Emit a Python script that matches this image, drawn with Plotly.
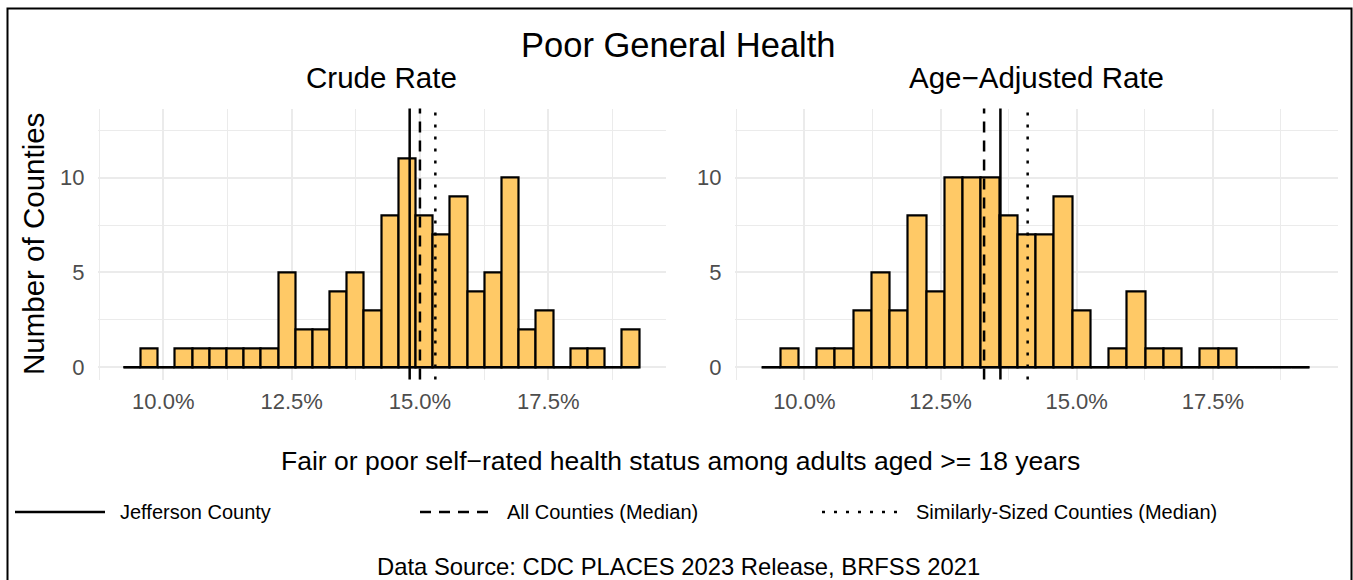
import plotly.graph_objects as go

# ---------------- data ----------------
BIN_START = 9.222          # left edge of first histogram bin (%)
BIN_WIDTH = 0.335          # histogram bin width (%)

crude_counts = [0, 1, 0, 1, 1, 1, 1, 1, 1, 5, 2, 2, 4, 5, 3, 8, 11, 8, 7, 9,
                4, 5, 10, 2, 3, 0, 1, 1, 0, 2]
adjusted_counts = [0, 1, 0, 1, 1, 3, 5, 3, 8, 4, 10, 10, 10, 8, 7, 7, 9, 3, 0, 1,
                   4, 1, 1, 0, 1, 1, 0, 0, 0, 0]

ref_labels = ["Jefferson County", "All Counties (Median)", "Similarly-Sized Counties (Median)"]
crude_ref_values = [14.8, 15.0, 15.3]
adjusted_ref_values = [13.6, 13.3, 14.1]

x_tick_vals = [10, 12.5, 15, 17.5]
x_tick_text = ["10.0%", "12.5%", "15.0%", "17.5%"]
x_minor_vals = [8.75, 11.25, 13.75, 16.25, 18.75]
y_tick_vals = [0, 5, 10]
y_tick_text = ["0", "5", "10"]
y_minor_vals = [2.5, 7.5, 12.5]

panel_titles = ["Crude Rate", "Age\u2212Adjusted Rate"]
main_title = "Poor General Health"
x_title = "Fair or poor self\u2212rated health status among adults aged >= 18 years"
y_title = "Number of Counties"
caption = "Data Source: CDC PLACES 2023 Release, BRFSS 2021"

# ---------------- styling ----------------
W, H = 1353, 580
FONT = "Liberation Sans, Arial, Helvetica, sans-serif"
FILL = "#FFC966"
GRID = "#EBEBEB"
TICK_COLOR = "#4D4D4D"
DASHES = ["solid", "11px,8px", "3px,9px"]


def px(x):
    return x / W


def py(y):
    return 1 - y / H


fig = go.Figure()

panels = [
    ("x", "y", crude_counts, crude_ref_values),
    ("x2", "y2", adjusted_counts, adjusted_ref_values),
]

for xa, ya, counts, refs in panels:
    n = len(counts)
    centers = [BIN_START + (i + 0.5) * BIN_WIDTH for i in range(n)]
    first_edge = BIN_START
    last_edge = BIN_START + n * BIN_WIDTH
    fig.add_trace(go.Scatter(
        x=[first_edge, last_edge], y=[0, 0], mode="lines",
        line=dict(color="black", width=2.2),
        xaxis=xa, yaxis=ya, showlegend=False, hoverinfo="skip"))
    fig.add_trace(go.Bar(
        x=centers, y=counts, width=BIN_WIDTH,
        marker=dict(color=FILL, line=dict(color="black", width=2.2)),
        xaxis=xa, yaxis=ya, showlegend=False))
    for v, d in zip(refs, DASHES):
        fig.add_shape(type="line", xref=xa, yref=ya + " domain",
                      x0=v, x1=v, y0=0, y1=1,
                      line=dict(color="black", width=2.5, dash=d))


def xaxis_cfg(domain, anchor):
    return dict(domain=domain, anchor=anchor, range=[8.72, 19.79],
                tickmode="array", tickvals=x_tick_vals, ticktext=x_tick_text,
                showgrid=True, gridcolor=GRID, gridwidth=1.6,
                minor=dict(tickmode="array", tickvals=x_minor_vals, showgrid=True,
                           gridcolor=GRID, gridwidth=0.8),
                zeroline=False, showline=False, ticks="",
                tickfont=dict(family=FONT, size=22, color=TICK_COLOR),
                ticklabelstandoff=6)


def yaxis_cfg(anchor):
    return dict(domain=[py(379.5), py(108.5)], anchor=anchor, range=[-0.65, 13.65],
                tickmode="array", tickvals=y_tick_vals, ticktext=y_tick_text,
                showgrid=True, gridcolor=GRID, gridwidth=1.6,
                minor=dict(tickmode="array", tickvals=y_minor_vals, showgrid=True,
                           gridcolor=GRID, gridwidth=0.8),
                zeroline=False, showline=False, ticks="",
                tickfont=dict(family=FONT, size=22, color=TICK_COLOR),
                ticklabelstandoff=12)


annotations = [
    dict(text=main_title, x=px(678), y=py(45), font=dict(size=34.5)),
    dict(text=panel_titles[0], x=px(381.7), y=py(78), font=dict(size=29.5)),
    dict(text=panel_titles[1], x=px(1036), y=py(78), font=dict(size=29.5)),
    dict(text=x_title, x=px(680), y=py(461), font=dict(size=26.5)),
    dict(text=caption, x=px(678), y=py(566), font=dict(size=23.8)),
    dict(text=y_title, x=px(34), y=py(244), font=dict(size=29.5), textangle=-90),
]
for a in annotations:
    a.update(xref="paper", yref="paper", showarrow=False,
             xanchor="center", yanchor="middle")
    a["font"].update(family=FONT, color="black")

# legend drawn manually
legend_items = [(15, 105, 118), (420, 495, 505), (822, 900, 914)]
LEG_Y = 512
for (x0, x1, tx), lab, d in zip(legend_items, ref_labels, DASHES):
    fig.add_shape(type="line", xref="paper", yref="paper",
                  x0=px(x0), x1=px(x1), y0=py(LEG_Y), y1=py(LEG_Y),
                  line=dict(color="black", width=2.5, dash=d))
    annotations.append(dict(text=lab, x=px(tx), y=py(LEG_Y), xref="paper", yref="paper",
                            showarrow=False, xanchor="left", yanchor="middle",
                            font=dict(family=FONT, size=20, color="black")))

# outer border
fig.add_shape(type="rect", xref="paper", yref="paper",
              x0=px(7.5), x1=px(1351.5), y0=-0.2, y1=py(8.5),
              line=dict(color="black", width=2), fillcolor="rgba(0,0,0,0)")

fig.update_layout(
    width=W, height=H, autosize=False,
    margin=dict(l=0, r=0, t=0, b=0),
    paper_bgcolor="white", plot_bgcolor="white",
    showlegend=False, bargap=0,
    xaxis=xaxis_cfg([px(97.6), px(665.8)], "y"),
    yaxis=yaxis_cfg("x"),
    xaxis2=xaxis_cfg([px(734.6), px(1337.6)], "y2"),
    yaxis2=yaxis_cfg("x2"),
    annotations=annotations,
    font=dict(family=FONT),
)

fig.write_html(
    "out.html",
    config={"displayModeBar": False},
    post_script="document.body.style.margin='0px';document.body.style.padding='0px';"
                "document.documentElement.style.overflow='hidden';",
)
